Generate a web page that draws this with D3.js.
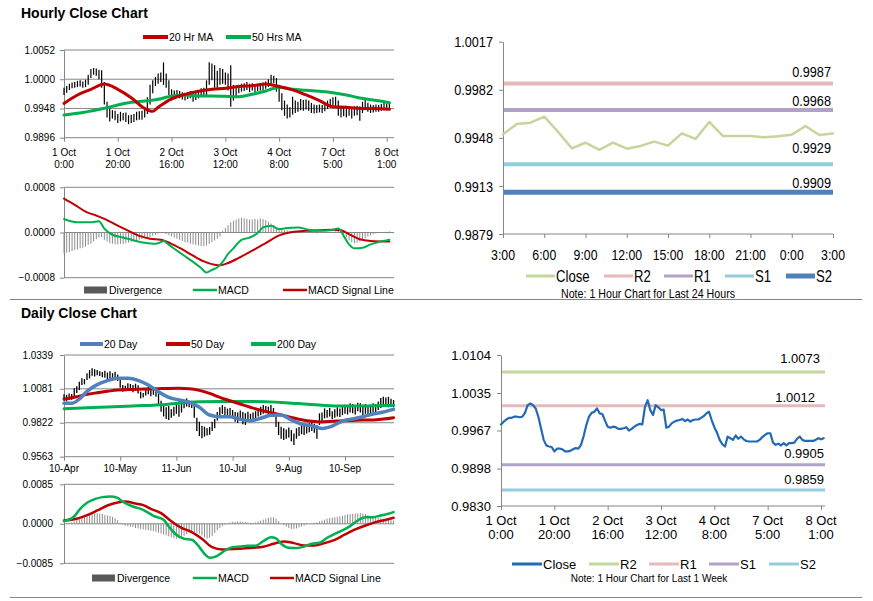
<!DOCTYPE html>
<html lang="en">
<head>
<meta charset="UTF-8" />
<title>Hourly and Daily Close Charts</title>
<script src="https://cdn.jsdelivr.net/npm/d3@7"></script>
<style>
  body { margin: 0; background: #fff; }
  svg text { font-family: "Liberation Sans", Arial, sans-serif; fill: #000; }
</style>
</head>
<body>
<script>
// ---- hourly data, 1 Oct 0:00 .. 8 Oct 1:00 (one value per hour)
const hourClose = [
  0.9978, 0.9983, 0.9987, 0.9990, 0.9990, 0.9992, 0.9992, 0.9991, 0.9992, 0.9999,
  1.0013, 1.0016, 1.0013, 1.0007, 0.9992, 0.9971, 0.9950, 0.9940, 0.9938, 0.9937,
  0.9929, 0.9934, 0.9934, 0.9933, 0.9929, 0.9929, 0.9930, 0.9933, 0.9935, 0.9934,
  0.9941, 0.9957, 0.9977, 0.9992, 0.9999, 1.0001, 1.0007, 0.9998, 0.9997, 0.9985,
  0.9974, 0.9972, 0.9974, 0.9973, 0.9970, 0.9970, 0.9971, 0.9973, 0.9967, 0.9970,
  0.9974, 0.9977, 0.9979, 0.9978, 1.0010, 1.0022, 1.0004, 0.9995, 1.0013, 1.0009,
  1.0004, 1.0005, 0.9972, 0.9974, 0.9980, 0.9983, 0.9985, 0.9986, 0.9988, 0.9984,
  0.9987, 0.9983, 0.9986, 0.9987, 0.9987, 0.9990, 0.9993, 0.9998, 1.0001, 0.9986,
  0.9973, 0.9963, 0.9950, 0.9942, 0.9938, 0.9956, 0.9953, 0.9950, 0.9958, 0.9952,
  0.9956, 0.9951, 0.9948, 0.9947, 0.9947, 0.9947, 0.9947, 0.9950, 0.9955, 0.9959,
  0.9962, 0.9962, 0.9945, 0.9941, 0.9943, 0.9940, 0.9944, 0.9940, 0.9944, 0.9944,
  0.9945, 0.9952, 0.9956, 0.9950, 0.9948, 0.9948, 0.9948, 0.9948, 0.9950, 0.9953,
  0.9951, 0.9953
]
const hourHigh = [
  0.9985, 0.9988, 0.9992, 0.9994, 0.9995, 0.9997, 0.9998, 0.9996, 0.9999, 1.0008,
  1.0018, 1.0020, 1.0019, 1.0017, 1.0016, 0.9995, 0.9960, 0.9948, 0.9945, 0.9944,
  0.9938, 0.9942, 0.9940, 0.9941, 0.9936, 0.9937, 0.9938, 0.9942, 0.9943, 0.9944,
  0.9950, 0.9968, 0.9990, 0.9998, 1.0004, 1.0010, 1.0012, 1.0030, 1.0010, 0.9998,
  0.9982, 0.9980, 0.9981, 0.9979, 0.9977, 0.9976, 0.9977, 0.9979, 0.9975, 0.9977,
  0.9980, 0.9984, 0.9985, 0.9998, 1.0030, 1.0028, 1.0025, 1.0015, 1.0020, 1.0018,
  1.0012, 1.0010, 1.0025, 0.9990, 0.9988, 0.9990, 0.9992, 0.9993, 0.9995, 0.9992,
  0.9993, 0.9990, 0.9992, 0.9993, 0.9994, 0.9996, 1.0000, 1.0008, 1.0006, 1.0002,
  0.9990, 0.9975, 0.9962, 0.9955, 0.9950, 0.9969, 0.9962, 0.9960, 0.9965, 0.9963,
  0.9964, 0.9962, 0.9958, 0.9955, 0.9954, 0.9955, 0.9954, 0.9957, 0.9962, 0.9965,
  0.9968, 0.9969, 0.9962, 0.9950, 0.9950, 0.9948, 0.9951, 0.9948, 0.9952, 0.9953,
  0.9952, 0.9960, 0.9966, 0.9958, 0.9955, 0.9954, 0.9955, 0.9954, 0.9956, 0.9959,
  0.9957, 0.9958
]
const hourLow = [
  0.9972, 0.9976, 0.9981, 0.9984, 0.9985, 0.9986, 0.9987, 0.9985, 0.9986, 0.9990,
  1.0002, 1.0008, 1.0006, 1.0000, 0.9985, 0.9955, 0.9932, 0.9925, 0.9930, 0.9927,
  0.9922, 0.9925, 0.9927, 0.9924, 0.9920, 0.9922, 0.9924, 0.9927, 0.9928, 0.9928,
  0.9932, 0.9938, 0.9955, 0.9975, 0.9988, 0.9992, 0.9995, 0.9990, 0.9985, 0.9972,
  0.9962, 0.9965, 0.9967, 0.9966, 0.9964, 0.9962, 0.9965, 0.9966, 0.9960, 0.9963,
  0.9966, 0.9970, 0.9972, 0.9972, 0.9990, 0.9998, 0.9985, 0.9985, 0.9990, 0.9992,
  0.9990, 0.9980, 0.9951, 0.9962, 0.9970, 0.9975, 0.9978, 0.9979, 0.9981, 0.9977,
  0.9980, 0.9976, 0.9979, 0.9980, 0.9981, 0.9983, 0.9986, 0.9990, 0.9993, 0.9978,
  0.9960, 0.9945, 0.9935, 0.9930, 0.9932, 0.9937, 0.9940, 0.9942, 0.9945, 0.9944,
  0.9946, 0.9944, 0.9940, 0.9939, 0.9940, 0.9941, 0.9940, 0.9943, 0.9947, 0.9950,
  0.9953, 0.9950, 0.9935, 0.9932, 0.9934, 0.9932, 0.9935, 0.9930, 0.9935, 0.9936,
  0.9926, 0.9940, 0.9945, 0.9942, 0.9940, 0.9941, 0.9942, 0.9942, 0.9944, 0.9946,
  0.9945, 0.9947
]
const hourTickIdx = [0, 20, 40, 60, 80, 100, 120]
const hourTickLabels = ['1 Oct|0:00', '1 Oct|20:00', '2 Oct|16:00', '3 Oct|12:00', '4 Oct|8:00', '7 Oct|5:00', '8 Oct|1:00']

const ma20Hours = [0, 5, 10, 15, 20, 25, 30, 33, 35, 40, 45, 50, 55, 60, 65, 70, 75, 80, 85, 90, 95, 100, 105, 110, 115, 121]
const ma20Hr = [0.9957, 0.9972, 0.9982, 0.99915, 0.9982, 0.9967, 0.9948, 0.9943, 0.9950, 0.9965, 0.9973, 0.99785, 0.9982,
  0.9984, 0.9987, 0.99886, 0.99915, 0.9987, 0.9981, 0.9972, 0.9962, 0.9951, 0.9950, 0.9948, 0.9948, 0.99465]
const ma50Hours = [0, 5, 10, 15, 20, 25, 30, 35, 40, 45, 50, 55, 60, 65, 70, 75, 80, 85, 90, 95, 100, 105, 110, 115, 121]
const ma50Hr = [0.99364, 0.99393, 0.99435, 0.99483, 0.99542, 0.99589, 0.99613, 0.99643, 0.99702, 0.9972, 0.99702, 0.99702,
  0.99696, 0.9969, 0.99732, 0.99791, 0.99856, 0.9982, 0.99803, 0.99785, 0.99761, 0.9972, 0.99666, 0.99631, 0.99583]

const macdHours = [0, 5, 10, 13, 15, 18, 22, 26, 30, 34, 36, 37, 39, 42, 45, 48, 51, 53, 55, 57, 59, 61, 63, 66, 69, 72,
  74, 77, 80, 83, 87, 91, 95, 99, 102, 104, 106, 108, 111, 114, 117, 121]
const macdHr = [0.00024, 0.00018, 0.00018, 0.00020, 0.00007, -0.00004, -0.00009, -0.00014, -0.00018, -0.00020, -0.00017,
  -0.00015, -0.00022, -0.00032, -0.00042, -0.00052, -0.00063, -0.00071, -0.00066, -0.00062, -0.00052, -0.00038, -0.00028,
  -0.00013, -0.00009, -0.00001, 0.00009, 0.00012, 0.00006, 0.00008, 0.00009, 0.00005, 0.00003, 0.00004, 0.00007, -0.00006,
  -0.00021, -0.00028, -0.00027, -0.00021, -0.00017, -0.00013]
const signalHours = [0, 4, 8, 12, 16, 20, 24, 28, 32, 36, 40, 44, 48, 52, 56, 58, 61, 65, 70, 75, 80, 85, 90, 95, 100, 103,
  106, 110, 114, 121]
const signalHr = [0.00060, 0.00049, 0.00037, 0.00030, 0.00022, 0.00012, 0.00003, -0.00006, -0.00011, -0.00013, -0.00020,
  -0.00030, -0.00041, -0.00051, -0.00057, -0.00058, -0.00054, -0.00045, -0.00032, -0.00019, -0.00005, 0.00001, 0.00003,
  0.00004, 0.00005, 0.00004, -0.00003, -0.00012, -0.00015, -0.00016]
const divergenceHr = [
  -0.00037, -0.00036, -0.00035, -0.00033, -0.00031, -0.00030, -0.00028, -0.00027, -0.00025, -0.00022,
  -0.00020, -0.00016, -0.00012, -0.00009, -0.00008, -0.00013, -0.00016, -0.00019, -0.00020, -0.00021,
  -0.00021, -0.00020, -0.00020, -0.00019, -0.00018, -0.00017, -0.00016, -0.00015, -0.00013, -0.00012,
  -0.00010, -0.00009, -0.00008, -0.00006, -0.00004, -0.00002, -0.00001, 0.00001, -0.00003, -0.00005,
  -0.00007, -0.00009, -0.00011, -0.00013, -0.00015, -0.00017, -0.00018, -0.00020, -0.00021, -0.00022,
  -0.00023, -0.00024, -0.00024, -0.00023, -0.00020, -0.00017, -0.00014, -0.00011, -0.00007, 0.00003,
  0.00008, 0.00013, 0.00018, 0.00021, 0.00023, 0.00025, 0.00026, 0.00025, 0.00024, 0.00023,
  0.00023, 0.00024, 0.00023, 0.00025, 0.00024, 0.00022, 0.00019, 0.00016, 0.00013, 0.00009,
  0.00007, 0.00005, 0.00004, 0.00004, 0.00003, 0.00003, 0.00003, 0.00002, 0.00002, 0.00001,
  0.00001, 0.00000, -0.00001, -0.00001, -0.00002, -0.00001, -0.00001, 0.00000, 0.00001, 0.00001,
  0.00001, 0.00002, 0.00003, 0.00002, -0.00004, -0.00009, -0.00014, -0.00017, -0.00019, -0.00018,
  -0.00016, -0.00013, -0.00010, -0.00007, -0.00005, -0.00003, -0.00002, -0.00001, 0.00000, 0.00001,
  0.00001, 0.00002
]

// ---- last 24 hours (3:00 .. 3:00) with pivot levels
const dayClose = [0.99505, 0.99579, 0.99589, 0.99632, 0.99524, 0.99405, 0.99445, 0.99393, 0.99445, 0.99402, 0.99422,
  0.99453, 0.99424, 0.99512, 0.99472, 0.99594, 0.99493, 0.99493, 0.99493, 0.99484, 0.99491, 0.99503, 0.99565, 0.995, 0.99512]
const dayTickIdx = [0, 3, 6, 9, 12, 15, 18, 21, 24]
const dayTickLabels = ['3:00', '6:00', '9:00', '12:00', '15:00', '18:00', '21:00', '0:00', '3:00']
const dayYTicks = [0.9879, 0.99135, 0.9948, 0.99825, 1.0017]
const dayYLabels = ['0.9879', '0.9913', '0.9948', '0.9982', '1.0017']
const dayLevelNames = ['R2', 'R1', 'S1', 'S2']
const dayLevels = [0.9987, 0.9968, 0.9929, 0.9909]

// ---- week pivot levels (close is hourClose)
const weekYTicks = [0.9830, 0.9898, 0.9967, 1.0035, 1.0104]
const weekLevelNames = ['R2', 'R1', 'S1', 'S2']
const weekLevels = [1.0073, 1.0012, 0.9905, 0.9859]

// ---- daily data, 10-Apr .. early Oct (one value per trading day)
const dailyHigh = [
  1.0040, 1.0035, 1.0046, 1.0042, 1.0085, 1.0100, 1.0135, 1.0161, 1.0155, 1.0200,
  1.0224, 1.0237, 1.0230, 1.0225, 1.0215, 1.0210, 1.0219, 1.0205, 1.0215, 1.0200,
  1.0212, 1.0190, 1.0161, 1.0110, 1.0105, 1.0123, 1.0118, 1.0110, 1.0120, 1.0108,
  1.0059, 1.0050, 1.0085, 1.0095, 1.0080, 1.0090, 1.0070, 1.0046, 0.9990, 0.9957,
  0.9940, 0.9950, 0.9925, 0.9945, 0.9970, 0.9960, 0.9975, 0.9995, 1.0008, 0.9990,
  0.9990, 0.9970, 0.9860, 0.9830, 0.9800, 0.9792, 0.9780, 0.9790, 0.9830, 0.9850,
  0.9905, 0.9940, 0.9957, 0.9945, 0.9930, 0.9935, 0.9919, 0.9905, 0.9900, 0.9915,
  0.9905, 0.9895, 0.9906, 0.9890, 0.9900, 0.9910, 0.9930, 0.9945, 0.9957, 0.9950,
  0.9945, 0.9957, 0.9935, 0.9881, 0.9830, 0.9792, 0.9780, 0.9770, 0.9785, 0.9766,
  0.9740, 0.9780, 0.9790, 0.9805, 0.9800, 0.9810, 0.9820, 0.9830, 0.9815, 0.9805,
  0.9894, 0.9900, 0.9932, 0.9920, 0.9935, 0.9910, 0.9925, 0.9940, 0.9930, 0.9945,
  0.9960, 0.9955, 0.9970, 0.9965, 0.9950, 0.9975, 0.9970, 0.9960, 0.9965, 0.9950,
  0.9960, 0.9970, 0.9965, 0.9985, 1.0010, 1.0021, 1.0015, 1.0020, 1.0005, 0.9995
]
const dailyLow = [
  0.9990, 0.9985, 0.9995, 0.9998, 1.0021, 1.0050, 1.0072, 1.0110, 1.0115, 1.0148,
  1.0160, 1.0180, 1.0175, 1.0185, 1.0178, 1.0170, 1.0165, 1.0150, 1.0160, 1.0155,
  1.0160, 1.0140, 1.0090, 1.0059, 1.0062, 1.0070, 1.0065, 1.0055, 1.0068, 1.0046,
  1.0008, 1.0015, 1.0030, 1.0040, 1.0025, 1.0035, 1.0020, 0.9960, 0.9906, 0.9870,
  0.9850, 0.9843, 0.9860, 0.9875, 0.9890, 0.9868, 0.9900, 0.9932, 0.9945, 0.9940,
  0.9935, 0.9860, 0.9760, 0.9720, 0.9703, 0.9716, 0.9725, 0.9730, 0.9760, 0.9780,
  0.9840, 0.9881, 0.9890, 0.9880, 0.9870, 0.9875, 0.9855, 0.9830, 0.9820, 0.9845,
  0.9810, 0.9805, 0.9840, 0.9830, 0.9835, 0.9850, 0.9870, 0.9880, 0.9890, 0.9895,
  0.9880, 0.9885, 0.9870, 0.9790, 0.9728, 0.9700, 0.9690, 0.9700, 0.9710, 0.9680,
  0.9652, 0.9700, 0.9720, 0.9735, 0.9728, 0.9740, 0.9750, 0.9760, 0.9745, 0.9700,
  0.9805, 0.9830, 0.9856, 0.9860, 0.9870, 0.9850, 0.9860, 0.9870, 0.9865, 0.9880,
  0.9890, 0.9885, 0.9900, 0.9895, 0.9885, 0.9910, 0.9900, 0.9881, 0.9890, 0.9870,
  0.9880, 0.9900, 0.9895, 0.9920, 0.9935, 0.9945, 0.9950, 0.9940, 0.9945, 0.9940
]
const dailyTickIdx = [0, 22, 44, 66, 88, 110]
const dailyTickLabels = ['10-Apr', '10-May', '11-Jun', '10-Jul', '9-Aug', '10-Sep']
const dailyYTicks = [0.9563, 0.9822, 1.0081, 1.0339]

const ma20DayIdx = [0, 3, 6, 9, 13, 17, 21, 25, 29, 33, 37, 41, 45, 49, 53, 57, 61, 65, 69, 73, 77, 81, 85, 89, 93, 97,
  101, 105, 109, 113, 117, 121, 125, 129]
const ma20Day = [0.9970, 0.9970, 1.0003, 1.0062, 1.0113, 1.0143, 1.0161, 1.0161, 1.0146, 1.0110, 1.0059, 1.0016, 0.9996,
  0.9980, 0.9940, 0.9881, 0.9868, 0.9868, 0.9848, 0.9838, 0.9856, 0.9879, 0.9881, 0.9843, 0.9812, 0.9797, 0.9779, 0.9797,
  0.9835, 0.9851, 0.9868, 0.9889, 0.9904, 0.9924]
const ma50DayIdx = [0, 5, 9, 13, 17, 21, 29, 37, 45, 49, 53, 57, 61, 65, 69, 73, 77, 81, 85, 89, 93, 97, 101, 105, 109,
  113, 117, 121, 125, 129]
const ma50Day = [1.0003, 1.0021, 1.0039, 1.0051, 1.0062, 1.0072, 1.0077, 1.0082, 1.0085, 1.0082, 1.0069, 1.0046, 1.0016,
  0.9990, 0.9965, 0.9940, 0.9917, 0.9899, 0.9881, 0.9863, 0.9845, 0.9833, 0.9828, 0.9833, 0.9838, 0.9840, 0.9843, 0.9843,
  0.9850, 0.9861]
const ma200DayIdx = [0, 14, 27, 40, 47, 53, 66, 79, 92, 106, 119, 129]
const ma200Day = [0.9929, 0.9940, 0.9950, 0.9962, 0.9975, 0.9983, 0.9985, 0.9983, 0.9968, 0.9950, 0.9950, 0.9955]

const macdDayIdx = [0, 4, 6, 9, 12, 15, 18, 21, 23, 27, 31, 35, 39, 41, 44, 47, 50, 53, 55, 57, 60, 63, 66, 69, 72, 75,
  78, 81, 83, 85, 88, 91, 94, 97, 100, 103, 106, 109, 112, 115, 118, 121, 124, 127, 129]
const macdDay = [0.00057, 0.00158, 0.00301, 0.00452, 0.00531, 0.00574, 0.00588, 0.00559, 0.00473, 0.00373, 0.00301,
  0.00172, 0.00086, -0.00057, -0.00237, -0.00323, -0.00344, -0.00502, -0.00645, -0.00731, -0.00688, -0.00574, -0.00502,
  -0.00488, -0.00473, -0.00473, -0.00373, -0.00287, -0.00315, -0.00430, -0.00516, -0.00523, -0.00488, -0.00430, -0.00409,
  -0.00301, -0.00215, -0.00143, -0.00050, 0.00072, 0.00143, 0.00143, 0.00179, 0.00215, 0.00251]
const signalDayIdx = [0, 5, 9, 13, 17, 21, 24, 28, 31, 34, 38, 42, 46, 50, 54, 58, 62, 66, 70, 74, 78, 82, 86, 90, 94,
  98, 102, 106, 110, 114, 118, 122, 126, 129]
const signalDay = [0.00072, 0.00108, 0.00186, 0.00287, 0.00394, 0.00459, 0.00480, 0.00437, 0.00402, 0.00323, 0.00229,
  0.00057, -0.00086, -0.00179, -0.00323, -0.00502, -0.00552, -0.00545, -0.00531, -0.00516, -0.00495, -0.00430, -0.00380,
  -0.00416, -0.00466, -0.00466, -0.00416, -0.00344, -0.00229, -0.00122, -0.00036, 0.00036, 0.00086, 0.00129]
const divergenceDay = [
  0.0000, 0.0001, 0.0002, 0.0003, 0.0005, 0.0008, 0.0012, 0.0015, 0.0018, 0.0020,
  0.0021, 0.0022, 0.0023, 0.0023, 0.0022, 0.0021, 0.0019, 0.0018, 0.0017, 0.0015,
  0.0012, 0.0008, 0.0002, -0.0002, -0.0004, -0.0005, -0.0006, -0.0007, -0.0009, -0.0010,
  -0.0011, -0.0012, -0.0013, -0.0014, -0.0015, -0.0016, -0.0017, -0.0019, -0.0021, -0.0023,
  -0.0025, -0.0027, -0.0029, -0.0031, -0.0032, -0.0031, -0.0029, -0.0026, -0.0022, -0.0019,
  -0.0017, -0.0018, -0.0019, -0.0021, -0.0025, -0.0029, -0.0032, -0.0030, -0.0026, -0.0020,
  -0.0014, -0.0009, -0.0005, -0.0002, 0.0001, 0.0003, 0.0004, 0.0004, 0.0005, 0.0005,
  0.0004, 0.0004, 0.0003, 0.0002, 0.0002, 0.0003, 0.0005, 0.0007, 0.0009, 0.0011,
  0.0013, 0.0014, 0.0014, 0.0011, 0.0006, 0.0001, -0.0003, -0.0006, -0.0009, -0.0011,
  -0.0011, -0.0010, -0.0008, -0.0006, -0.0004, -0.0002, 0.0000, 0.0001, 0.0002, 0.0003,
  0.0005, 0.0007, 0.0009, 0.0011, 0.0012, 0.0013, 0.0014, 0.0015, 0.0016, 0.0017,
  0.0019, 0.0020, 0.0021, 0.0021, 0.0022, 0.0022, 0.0023, 0.0022, 0.0021, 0.0019,
  0.0017, 0.0015, 0.0014, 0.0013, 0.0012, 0.0011, 0.0010, 0.0009, 0.0008, 0.0007
]

// ---- drawing
const GRID = '#868686'
const RED = '#c00000'
const GREEN = '#00b050'
const DIV = '#8c8c8c'
const NARROW = 0.82 // horizontal squeeze standing in for Arial Narrow
const dayColors = ['#e6b9b8', '#b3a2c7', '#93cddd', '#4f81bd']
const weekColors = ['#c3d69b', '#e6b9b8', '#b3a2c7', '#93cddd']

const svg = d3.select('body').append('svg').attr('width', 873).attr('height', 601)

function line(x1, y1, x2, y2, color, w) {
  return svg.append('line').attr('x1', x1).attr('y1', y1).attr('x2', x2).attr('y2', y2)
    .attr('stroke', color).attr('stroke-width', w)
}

function text(x, y, s, size, anchor, narrow) {
  const t = svg.append('text').attr('font-size', size).attr('text-anchor', anchor || 'start').text(s)
  if (narrow) t.attr('transform', `translate(${x},${y}) scale(${NARROW},1)`)
  else t.attr('x', x).attr('y', y)
  return t
}

function yAxis(x0, y, ticks, labels, size, pad, narrow) {
  const g = svg.append('g').attr('transform', `translate(${x0},0)`)
    .call(d3.axisLeft(y).tickValues(ticks).tickSize(4).tickSizeOuter(0).tickFormat(''))
  g.attr('color', GRID)
  ticks.forEach((t, i) => {
    text(x0 - 4 - pad, y(t) + size * 0.36, labels ? labels[i] : d3.format('.4f')(t), size, 'end', narrow)
  })
}

function xAxis(y0, x, idx, labels, size, baselines, narrow, x1) {
  const g = svg.append('g').attr('transform', `translate(0,${y0})`)
    .call(d3.axisBottom(x).tickValues(idx).tickSize(4).tickSizeOuter(0).tickFormat(''))
  g.attr('color', GRID)
  g.select('.domain').remove()
  line(x.range()[0], y0, x1, y0, GRID, 1)
  idx.forEach((d, i) => {
    labels[i].split('|').forEach((s, k) => text(x(d), baselines[k], s, size, 'middle', narrow))
  })
}

function grid(y, vals, x0, x1) {
  vals.forEach(v => line(x0, y(v), x1, y(v), GRID, 1))
}

function path(xs, ys, x, y, color, w, curve) {
  svg.append('path')
    .datum(xs.map((d, i) => [d, ys[i]]))
    .attr('fill', 'none').attr('stroke', color).attr('stroke-width', w)
    .attr('stroke-linejoin', 'round').attr('stroke-linecap', 'round')
    .attr('d', d3.line().x(d => x(d[0])).y(d => y(d[1])).curve(curve || d3.curveLinear))
}

function hiLoBars(hi, lo, x, y, w) {
  svg.append('g').selectAll('line').data(hi).join('line')
    .attr('x1', (d, i) => x(i)).attr('x2', (d, i) => x(i))
    .attr('y1', d => y(d)).attr('y2', (d, i) => y(lo[i]))
    .attr('stroke', '#000').attr('stroke-width', w)
}

function histogram(vals, x, y) {
  svg.append('g').selectAll('line').data(vals).join('line')
    .attr('x1', (d, i) => x(i)).attr('x2', (d, i) => x(i))
    .attr('y1', y(0)).attr('y2', d => y(d))
    .attr('stroke', DIV).attr('stroke-width', 1)
}

function legendLine(x, y, len, color, w, label, size, narrow) {
  line(x, y, x + len, y, color, w)
  text(x + len + 1, y + size * 0.36, label, size, 'start', narrow)
}

function macdLegend(y, boxX, macdX, sigX) {
  svg.append('rect').attr('x', boxX).attr('y', y - 3.5).attr('width', 23).attr('height', 7).attr('fill', '#595959')
  text(boxX + 25, y + 4, 'Divergence', 10.5)
  legendLine(macdX, y, 24, GREEN, 2.5, 'MACD', 10.5)
  legendLine(sigX, y, 24, RED, 2.5, 'MACD Signal Line', 10.5)
}

// titles and separators
svg.append('text').attr('x', 21).attr('y', 18).attr('font-size', 14).attr('font-weight', 'bold').text('Hourly Close Chart')
svg.append('text').attr('x', 21).attr('y', 318).attr('font-size', 14).attr('font-weight', 'bold').text('Daily Close Chart')
line(10, 299.5, 862, 299.5, GRID, 1)
line(10, 597.5, 862, 597.5, GRID, 1)

// A: hourly close with moving averages
const xA = d3.scaleLinear().domain([0, 120]).range([64, 386.7])
const yA = d3.scaleLinear().domain([0.9896, 1.0052]).range([137.7, 50])
grid(yA, [1.0052, 1.0000, 0.9948], 64, 394)
yAxis(64, yA, [0.9896, 0.9948, 1.0000, 1.0052], null, 10, 5)
xAxis(137.7, xA, hourTickIdx, hourTickLabels, 10, [155.5, 167.5], false, 394)
hiLoBars(hourHigh, hourLow, xA, yA, 1.2)
path(ma50Hours, ma50Hr, xA, yA, GREEN, 3, d3.curveMonotoneX)
path(ma20Hours, ma20Hr, xA, yA, RED, 3, d3.curveMonotoneX)
legendLine(143, 37, 25, RED, 4, '20 Hr MA', 10.5)
legendLine(226, 37, 25, GREEN, 4, '50 Hrs MA', 10.5)

// B: hourly MACD
const yB = d3.scaleLinear().domain([-0.0008, 0.0008]).range([277.7, 187.3])
grid(yB, [0.0008, 0], 64, 394)
yAxis(64, yB, [-0.0008, 0, 0.0008], null, 10, 5)
line(64, 277.7, 394, 277.7, GRID, 1)
histogram(divergenceHr, xA, yB)
path(signalHours, signalHr, xA, yB, RED, 2, d3.curveMonotoneX)
path(macdHours, macdHr, xA, yB, GREEN, 2, d3.curveMonotoneX)
macdLegend(290, 84, 193, 283)

// C: last 24 hours with pivots
const xC = d3.scaleLinear().domain([0, 24]).range([503, 833])
const yC = d3.scaleLinear().domain([0.9879, 1.0017]).range([234, 41.7])
yAxis(503, yC, dayYTicks, dayYLabels, 15.5, 6, true)
xAxis(234, xC, dayTickIdx, dayTickLabels, 15, [259.5], true, 833)
const dayLabelDy = [-7, -4, -11, -4]
dayLevels.forEach((v, i) => {
  line(504, yC(v), 833, yC(v), dayColors[i], i === 3 ? 5 : 4)
  text(831, yC(v) + dayLabelDy[i], d3.format('.4f')(v), 15.5, 'end', true)
})
path(d3.range(dayClose.length), dayClose, xC, yC, '#c3d69b', 2.5)
legendLine(526, 276, 29, '#c3d69b', 3, 'Close', 16, true)
dayLevelNames.forEach((n, i) => legendLine([604, 664, 725, 786][i], 276, 29, dayColors[i], i === 3 ? 5 : 3, n, 16, true))
text(648, 298, 'Note: 1 Hour Chart for Last 24 Hours', 13, 'middle', true)

// D: daily close with moving averages
const xD = d3.scaleLinear().domain([0, 110]).range([64, 345])
const yD = d3.scaleLinear().domain([0.9563, 1.0339]).range([456.7, 355])
grid(yD, [1.0339, 1.0081, 0.9822], 64, 394)
yAxis(64, yD, dailyYTicks, null, 10, 7)
xAxis(456.7, xD, dailyTickIdx, dailyTickLabels, 10, [471.5], false, 394)
hiLoBars(dailyHigh, dailyLow, xD, yD, 1.3)
path(ma200DayIdx, ma200Day, xD, yD, GREEN, 3, d3.curveMonotoneX)
path(ma50DayIdx, ma50Day, xD, yD, RED, 3, d3.curveMonotoneX)
path(ma20DayIdx, ma20Day, xD, yD, '#4f81bd', 3.5, d3.curveMonotoneX)
legendLine(80, 344, 23, '#4f81bd', 4, '20 Day', 10.5)
legendLine(166, 344, 24, RED, 4, '50 Day', 10.5)
legendLine(251, 344, 25, GREEN, 4, '200 Day', 10.5)

// E: daily MACD
const yE = d3.scaleLinear().domain([-0.0085, 0.0085]).range([563.3, 484.3])
grid(yE, [0.0085, 0], 64, 394)
yAxis(64, yE, [-0.0085, 0, 0.0085], null, 10, 7)
line(64, 563.3, 394, 563.3, GRID, 1)
histogram(divergenceDay, xD, yE)
path(signalDayIdx, signalDay, xD, yE, RED, 2.5, d3.curveMonotoneX)
path(macdDayIdx, macdDay, xD, yE, GREEN, 2.5, d3.curveMonotoneX)
macdLegend(578, 92, 193, 270)

// F: one week hourly close with pivots
const xF = d3.scaleLinear().domain([0, 120]).range([501, 821])
const yF = d3.scaleLinear().domain([0.9830, 1.0104]).range([506, 355])
yAxis(501, yF, weekYTicks, null, 13, 6)
xAxis(506, xF, hourTickIdx, hourTickLabels, 13, [525, 538.5], false, 825)
const weekLabelDy = [-9, -4, -7, -6]
const weekLabelX = [820, 815, 824, 824]
weekLevels.forEach((v, i) => {
  line(502, yF(v), 825, yF(v), weekColors[i], 3)
  text(weekLabelX[i], yF(v) + weekLabelDy[i], d3.format('.4f')(v), 13, 'end')
})
path(d3.range(hourClose.length), hourClose, xF, yF, '#2369b3', 2.2)
legendLine(512, 564, 30, '#2369b3', 3, 'Close', 13)
weekLevelNames.forEach((n, i) => legendLine([589, 649, 709, 769][i], 564, 30, weekColors[i], 3, n, 13))
text(649, 582, 'Note: 1 Hour Chart for Last 1 Week', 10, 'middle')
</script>
</body>
</html>
